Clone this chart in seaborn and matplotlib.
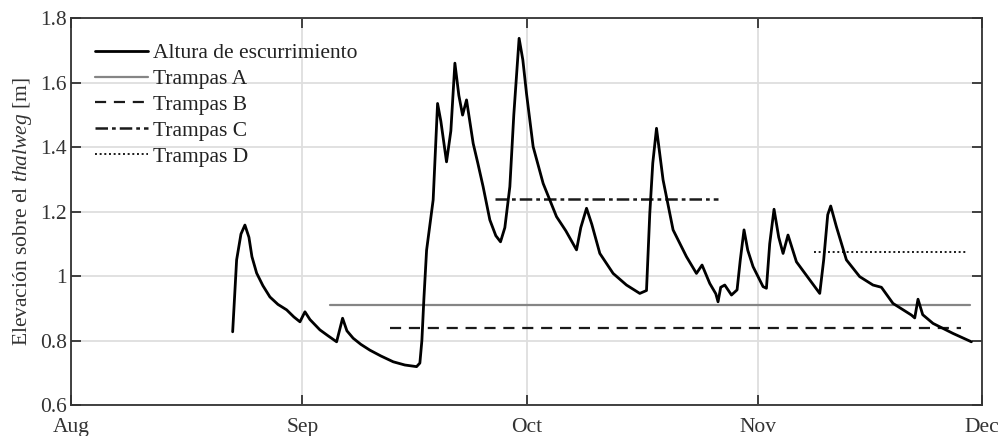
import numpy as np
import pandas as pd
import matplotlib
matplotlib.use("Agg")
import matplotlib.pyplot as plt
import matplotlib.dates as mdates
import seaborn as sns

# ---------------- data ----------------
base_date = "2019-08-01"
# days since Aug 1 for the runoff-height series
flow_days = [21.65, 22.18, 22.76, 23.29, 23.83, 24.23, 24.86, 25.70, 26.64, 27.71,
             28.88, 29.85, 30.66, 31.33, 32.00, 33.33, 34.40, 35.57, 36.37, 36.95,
             37.79, 38.82, 40.03, 41.50, 43.15, 44.71, 46.28, 46.72, 46.99, 47.26,
             47.62, 48.50, 49.09, 49.53, 50.29, 50.87, 51.41, 51.94, 52.44, 52.97,
             53.86, 54.48, 55.19, 56.09, 56.89, 57.52, 58.10, 58.77, 59.30, 60.01,
             60.51, 61.00, 61.89, 63.23, 65.02, 66.27, 67.70, 68.27, 69.04, 69.75,
             70.82, 72.60, 74.39, 76.17, 77.07, 77.51, 77.91, 78.41, 79.29, 80.63,
             82.42, 83.76, 84.51, 85.54, 86.35, 86.65, 87.01, 87.55, 88.45, 89.20,
             89.63, 90.13, 90.63, 91.34, 92.68, 93.13, 93.57, 94.15, 94.78, 95.36,
             96.02, 97.15, 98.93, 100.27, 100.80, 101.34, 101.74, 102.50, 103.84, 105.62,
             107.40, 108.53, 110.08, 112.54, 112.99, 113.43, 114.06, 115.44, 118.11, 120.58]
flow_values = [0.827, 1.050, 1.130, 1.158, 1.120, 1.060, 1.009, 0.970, 0.935, 0.912,
               0.895, 0.873, 0.858, 0.889, 0.865, 0.833, 0.815, 0.796, 0.869, 0.830,
               0.807, 0.788, 0.770, 0.752, 0.734, 0.724, 0.719, 0.730, 0.800, 0.930,
               1.080, 1.236, 1.535, 1.480, 1.354, 1.450, 1.660, 1.560, 1.499, 1.546,
               1.411, 1.350, 1.277, 1.174, 1.125, 1.106, 1.150, 1.277, 1.500, 1.737,
               1.670, 1.566, 1.401, 1.287, 1.184, 1.140, 1.081, 1.150, 1.210, 1.160,
               1.070, 1.008, 0.972, 0.946, 0.955, 1.194, 1.350, 1.458, 1.298, 1.143,
               1.060, 1.008, 1.034, 0.977, 0.945, 0.920, 0.965, 0.972, 0.941, 0.957,
               1.050, 1.143, 1.080, 1.029, 0.967, 0.962, 1.100, 1.207, 1.120, 1.070,
               1.127, 1.044, 0.988, 0.946, 1.050, 1.190, 1.217, 1.153, 1.050, 0.998,
               0.972, 0.965, 0.915, 0.879, 0.870, 0.928, 0.880, 0.853, 0.822, 0.796]

trap_labels = ["Trampas A", "Trampas B", "Trampas C", "Trampas D"]
trap_levels = [0.910, 0.840, 1.240, 1.073]
trap_start_days = [34.67, 42.70, 56.76, 99.46]
trap_end_days = [120.35, 119.20, 86.65, 120.12]

month_labels = ["Aug", "Sep", "Oct", "Nov", "Dec"]
y_ticks = [0.6, 0.8, 1.0, 1.2, 1.4, 1.6, 1.8]
y_ticklabels = ["0.6", "0.8", "1", "1.2", "1.4", "1.6", "1.8"]

# ---------------- style ----------------
sns.set_theme(style="white")
plt.rcParams["font.family"] = ["Liberation Serif", "DejaVu Serif"]
plt.rcParams["mathtext.fontset"] = "custom"
plt.rcParams["mathtext.rm"] = "Liberation Serif"
plt.rcParams["mathtext.it"] = "Liberation Serif:italic"
FS = 15.5

t0 = pd.Timestamp(base_date)
def to_dates(days):
    return t0 + pd.to_timedelta(np.asarray(days, dtype=float), unit="D")

fig = plt.figure(figsize=(10, 4.36), dpi=100)
ax = fig.add_axes([0.071, 0.0711, 0.911, 0.8876])

flow_df = pd.DataFrame({"date": to_dates(flow_days), "h": flow_values})
sns.lineplot(data=flow_df, x="date", y="h", ax=ax, color="black", lw=2.0,
             label="Altura de escurrimiento", zorder=5)

trap_styles = [
    dict(color="#858585", lw=1.6, ls="-"),
    dict(color="#1a1a1a", lw=1.6, ls=(0, (5, 3.5))),
    dict(color="#1a1a1a", lw=1.8, ls=(0, (5, 1.6, 1.5, 1.6))),
    dict(color="#1a1a1a", lw=1.4, ls=(0, (1, 1.4))),
]
for lab, lvl, s, e, st in zip(trap_labels, trap_levels, trap_start_days, trap_end_days, trap_styles):
    d = pd.DataFrame({"date": to_dates([s, e]), "h": [lvl, lvl]})
    sns.lineplot(data=d, x="date", y="h", ax=ax, label=lab, zorder=4,
                 color=st["color"], lw=st["lw"], linestyle=st["ls"])

# axes
ax.set_xlim(t0, t0 + pd.DateOffset(months=4))
ax.set_ylim(0.6, 1.8)
ax.xaxis.set_major_locator(mdates.MonthLocator())
ax.xaxis.set_major_formatter(mdates.DateFormatter("%b"))
ax.set_yticks(y_ticks)
ax.set_yticklabels(y_ticklabels)
ax.set_xlabel("")
ax.set_ylabel(r"Elevación sobre el $\it{thalweg}$ [m]", fontsize=FS, color="#333333", labelpad=4)

ax.grid(True, color="#dedede", lw=1.3)
ax.set_axisbelow(True)
for sp in ax.spines.values():
    sp.set_color("#333333")
    sp.set_linewidth(1.3)
ax.tick_params(axis="both", which="major", direction="in", length=7, width=1.3,
               colors="#333333", labelsize=FS, labelcolor="#333333",
               top=True, right=True, bottom=True, left=True)
ax.tick_params(axis="x", pad=9)
ax.tick_params(axis="y", pad=3)

leg = ax.legend(loc="upper left", bbox_to_anchor=(0.026, 0.935), frameon=False,
                fontsize=FS, handlelength=2.47, handletextpad=0.23,
                labelspacing=0.27, borderpad=0, borderaxespad=0)
for t in leg.get_texts():
    t.set_color("#222222")

fig.savefig("out.png", dpi=100)
